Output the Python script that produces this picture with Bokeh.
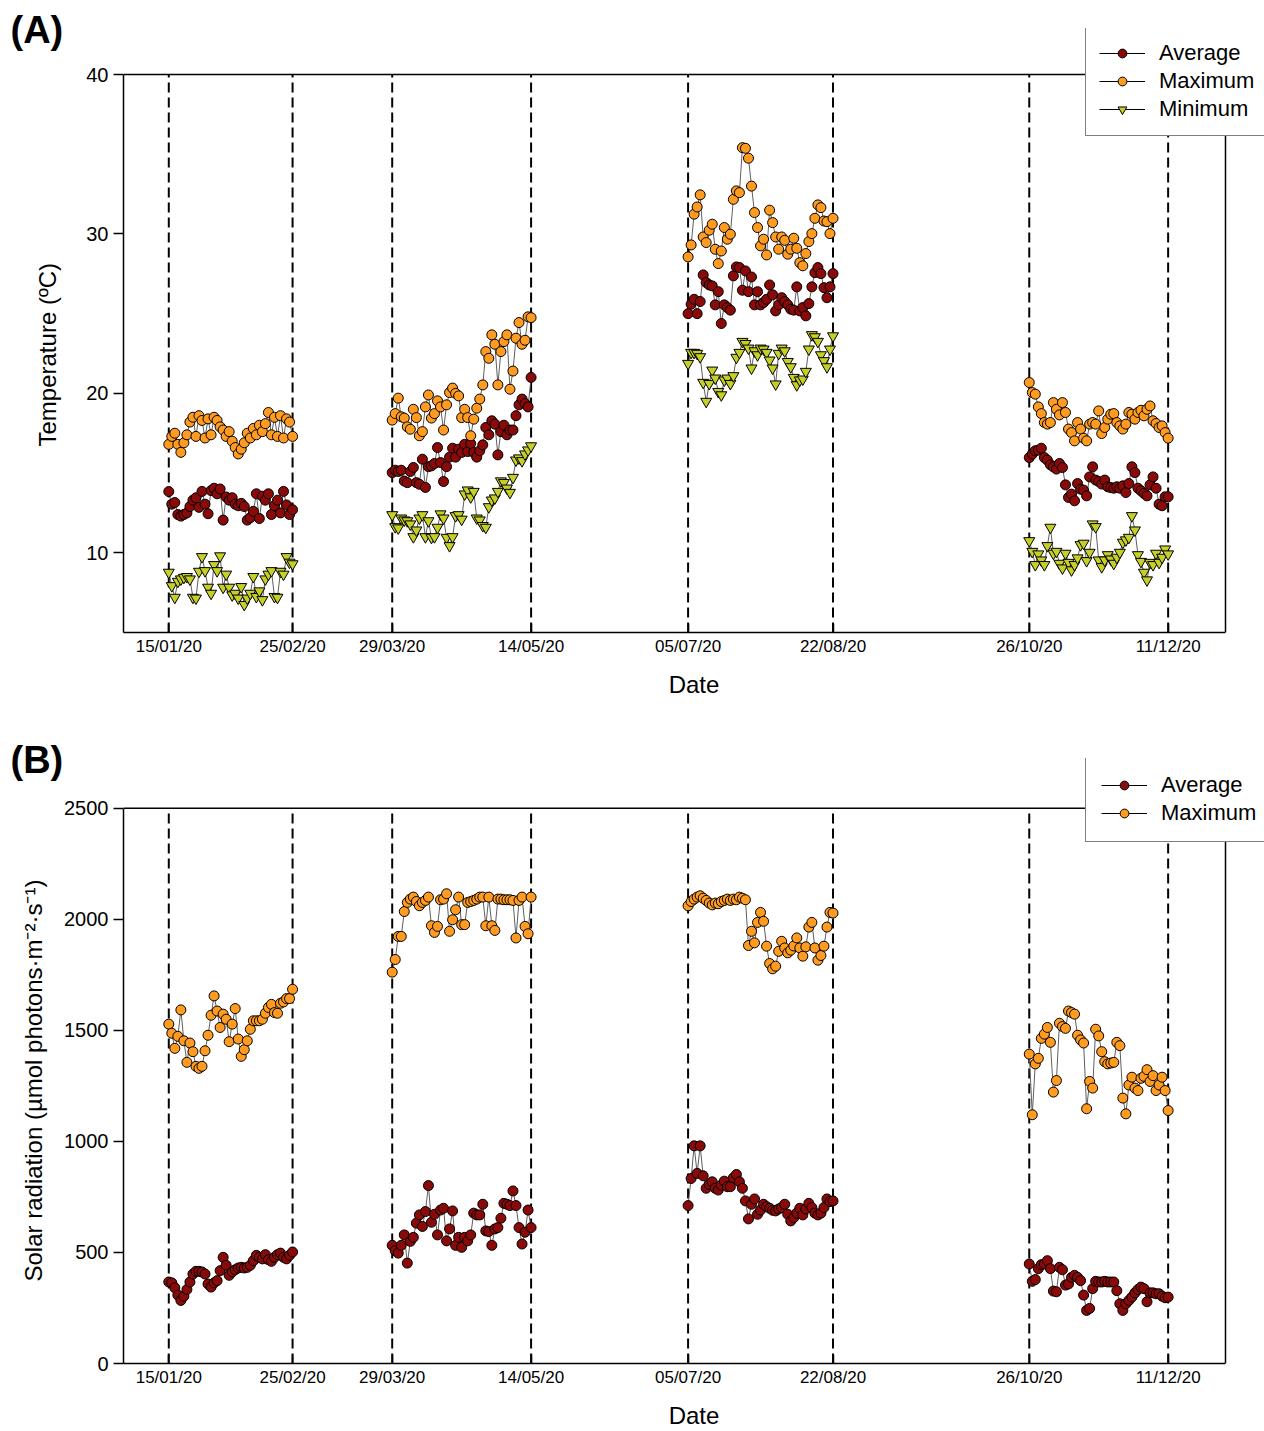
import pandas as pd
from datetime import datetime, timedelta
from bokeh.plotting import figure
from bokeh.layouts import column
from bokeh.models import (Legend, LegendItem, FixedTicker, DatetimeTickFormatter, Range1d, Title)
from bokeh.embed import file_html
from bokeh.resources import INLINE

# ---------------- data ----------------
period_starts = ["2020-01-15", "2020-03-29", "2020-07-05", "2020-10-26"]
period_ends = ["2020-02-25", "2020-05-14", "2020-08-22", "2020-12-11"]
tick_dates = ["2020-01-15", "2020-02-25", "2020-03-29", "2020-05-14",
              "2020-07-05", "2020-08-22", "2020-10-26", "2020-12-11"]

# Temperature (ºC) - Average
temp_avg_1 = [13.84, 13.05, 13.15, 12.4, 12.3, 12.4, 12.5, 12.9, 13.3, 13.45, 12.85, 13.85, 13.05, 12.45,
              13.9, 14.05, 13.7, 14.0, 12.05, 13.5, 13.3, 13.45, 13.05, 12.95, 13.1, 12.9, 12.05, 12.2,
              12.6, 13.7, 12.15, 13.55, 13.3, 13.7, 12.4, 12.95, 13.3, 12.5, 13.85, 13.0, 12.4, 12.7]
temp_avg_2 = [15.03, 15.18, 15.1, 15.18, 14.5, 14.4, 15.1, 15.35, 14.4, 14.3, 15.87, 14.1, 15.4, 15.45,
              15.6, 16.6, 15.66, 14.47, 15.4, 16.0, 16.56, 16.0, 16.5, 16.29, 16.8, 16.35, 16.85, 16.29,
              16.0, 16.4, 16.77, 17.86, 17.4, 18.28, 18.07, 16.14, 17.6, 18.0, 17.4, 17.7, 17.7, 18.6,
              19.28, 19.64, 19.36, 19.15, 21.0]
temp_avg_3 = [25.0, 25.59, 25.9, 25.0, 25.76, 27.43, 26.95, 26.8, 26.74, 25.55, 26.38, 24.38, 25.55, 25.38,
              25.22, 27.37, 27.93, 27.89, 26.47, 27.68, 26.38, 27.3, 25.55, 26.38, 25.55, 25.7, 25.9, 26.8,
              26.18, 25.17, 25.55, 26.0, 25.76, 25.55, 25.28, 25.22, 26.68, 25.17, 25.38, 24.86, 25.63,
              26.68, 27.57, 27.89, 27.51, 26.63, 26.0, 26.68, 27.51]
temp_avg_4 = [15.97, 16.19, 16.4, 16.44, 16.56, 15.97, 15.81, 15.52, 15.39, 15.25, 15.6, 15.35, 14.26, 13.47,
              13.68, 13.26, 14.34, 13.99, 13.93, 13.57, 14.76, 15.39, 14.56, 14.47, 14.31, 14.56, 14.14,
              14.09, 14.05, 14.14, 14.05, 14.2, 13.78, 14.34, 15.39, 15.03, 14.05, 13.89, 13.72, 13.57,
              14.26, 14.76, 14.05, 13.05, 12.95, 13.51, 13.51]

# Temperature (ºC) - Maximum
temp_max_1 = [16.8, 17.3, 17.5, 16.8, 16.3, 16.9, 17.4, 18.2, 18.5, 17.3, 18.6, 18.3, 17.2, 18.4, 17.4,
              18.5, 18.3, 17.9, 17.7, 17.3, 17.6, 17.0, 16.6, 16.2, 16.5, 16.9, 17.5, 17.2, 17.8, 17.4,
              18.0, 17.6, 18.1, 18.8, 17.4, 18.5, 17.3, 18.6, 17.2, 18.4, 18.2, 17.3]
temp_max_2 = [18.32, 18.73, 19.7, 18.53, 18.45, 17.9, 17.75, 19.0, 18.48, 17.34, 17.6, 19.15, 19.9, 18.45,
              18.73, 19.53, 19.15, 17.7, 19.28, 20.05, 20.33, 20.0, 19.84, 18.48, 19.0, 18.48, 17.34,
              18.38, 19.07, 19.64, 20.53, 22.62, 22.2, 23.67, 23.08, 20.53, 22.62, 23.25, 23.67, 20.26,
              21.4, 23.46, 24.44, 23.08, 23.33, 24.8, 24.75]
temp_max_3 = [28.56, 29.31, 31.24, 31.69, 32.45, 29.81, 29.46, 30.23, 30.61, 29.04, 28.14, 28.93, 30.4,
              29.67, 29.98, 32.17, 32.7, 32.59, 35.41, 35.37, 34.75, 33.0, 31.34, 30.4, 29.25, 29.67,
              28.68, 31.49, 30.71, 29.81, 29.04, 29.81, 29.6, 28.73, 29.04, 29.73, 29.1, 28.2, 28.0,
              28.77, 29.52, 30.02, 30.98, 31.82, 31.65, 30.81, 30.77, 30.02, 30.98]
temp_max_4 = [20.68, 20.05, 19.95, 19.15, 18.73, 18.17, 18.07, 18.17, 19.42, 19.0, 18.65, 19.42, 18.8,
              17.76, 17.54, 17.02, 18.17, 17.76, 17.19, 17.02, 18.07, 18.17, 18.07, 18.9, 17.48, 17.86,
              18.38, 18.69, 18.73, 18.17, 17.96, 17.76, 18.07, 18.8, 18.69, 18.38, 18.8, 18.94, 18.59,
              19.0, 19.21, 18.28, 18.11, 17.86, 17.96, 17.54, 17.19]

# Temperature (ºC) - Minimum
temp_min_1 = [8.77, 7.93, 7.2, 8.2, 8.35, 8.45, 8.5, 8.35, 7.2, 7.15, 8.83, 9.75, 8.87, 7.83, 7.45, 9.25,
              8.87, 9.8, 7.83, 8.65, 7.83, 7.35, 7.45, 7.15, 7.87, 6.75, 7.15, 7.45, 8.5, 7.25, 7.6, 7.05,
              8.35, 8.65, 8.87, 7.25, 7.2, 8.83, 8.65, 9.75, 9.4, 9.3]
temp_min_2 = [12.38, 11.63, 11.55, 12.17, 12.05, 12.0, 11.8, 11.0, 11.42, 12.17, 12.38, 11.0, 12.0, 10.96,
              11.0, 11.59, 12.43, 12.17, 10.96, 10.44, 11.0, 12.32, 12.38, 12.1, 13.68, 13.93, 13.5,
              13.84, 12.17, 12.05, 11.7, 11.59, 12.88, 13.3, 13.43, 13.84, 14.5, 14.4, 14.05, 13.78,
              14.72, 15.81, 15.94, 15.77, 16.19, 16.44, 16.7]
temp_min_3 = [21.87, 22.56, 22.56, 22.5, 22.29, 20.68, 19.49, 20.61, 21.45, 20.95, 20.11, 19.9, 20.83,
              20.95, 20.61, 21.1, 22.25, 22.56, 23.25, 23.12, 22.83, 21.58, 22.66, 22.41, 22.83, 22.77,
              22.56, 22.08, 21.58, 20.58, 22.5, 22.83, 22.66, 21.99, 21.66, 20.99, 20.53, 20.83, 20.89,
              21.37, 22.77, 23.67, 23.54, 23.25, 22.41, 22.04, 21.66, 22.77, 23.6]
temp_min_4 = [10.75, 10.08, 9.25, 9.92, 9.54, 9.25, 10.44, 11.59, 9.96, 10.08, 9.33, 9.04, 9.96, 9.39,
              8.92, 9.25, 9.67, 10.5, 10.59, 9.5, 10.02, 11.8, 11.63, 9.54, 9.12, 9.54, 9.87, 9.6, 9.33,
              9.71, 10.02, 10.65, 10.8, 10.96, 12.32, 11.42, 9.87, 9.45, 8.77, 8.29, 9.39, 9.25, 9.96,
              9.39, 9.71, 10.23, 9.92]

# Solar radiation - Average
rad_avg_1 = [367, 363, 341, 308, 284, 303, 333, 367, 403, 415, 415, 412, 403, 358, 344, 363, 373, 418, 478,
             442, 397, 412, 422, 430, 433, 430, 433, 442, 463, 487, 478, 471, 490, 467, 460, 478, 490, 497,
             478, 471, 487, 502]
rad_avg_2 = [532, 508, 497, 532, 579, 452, 550, 568, 632, 669, 617, 684, 801, 636, 672, 579, 691, 699, 552,
             606, 687, 532, 568, 523, 568, 552, 579, 677, 669, 669, 717, 597, 594, 532, 606, 612, 654, 721,
             717, 711, 777, 711, 612, 538, 591, 691, 612]
rad_avg_3 = [711, 833, 980, 856, 980, 845, 789, 806, 818, 789, 781, 803, 821, 796, 796, 836, 851, 818, 789,
             732, 651, 717, 741, 672, 691, 717, 706, 699, 690, 687, 696, 702, 717, 672, 642, 657, 677, 699,
             669, 696, 721, 702, 677, 669, 677, 702, 741, 729, 732]
rad_avg_4 = [448, 370, 378, 427, 445, 448, 463, 427, 326, 323, 433, 422, 353, 358, 388, 397, 388, 373, 308,
             239, 248, 337, 370, 367, 367, 370, 367, 367, 367, 328, 269, 239, 269, 284, 299, 318, 333, 344,
             337, 278, 318, 318, 314, 314, 303, 296, 299]

# Solar radiation - Maximum
rad_max_1 = [1528, 1487, 1419, 1473, 1592, 1453, 1356, 1443, 1404, 1338, 1329, 1338, 1408, 1478, 1568, 1655,
             1587, 1513, 1573, 1550, 1449, 1528, 1598, 1461, 1383, 1413, 1453, 1505, 1543, 1543, 1543,
             1550, 1577, 1603, 1617, 1580, 1577, 1622, 1628, 1643, 1643, 1685]
rad_max_2 = [1762, 1819, 1923, 1923, 2035, 2076, 2091, 2100, 2080, 2061, 2076, 2085, 2100, 1971, 1941, 1968,
             2088, 2091, 2115, 1946, 1998, 2043, 2100, 1976, 1976, 2076, 2080, 2085, 2091, 2100, 2100,
             1971, 2100, 1971, 1950, 2091, 2091, 2088, 2088, 2088, 2085, 1916, 2085, 2100, 1968, 1935, 2100]
rad_max_3 = [2061, 2080, 2091, 2100, 2106, 2095, 2085, 2073, 2065, 2073, 2070, 2080, 2085, 2091, 2085, 2091,
             2088, 2100, 2095, 2088, 1882, 1946, 1894, 1986, 2031, 1991, 1879, 1801, 1777, 1789, 1856,
             1901, 1871, 1849, 1861, 1880, 1916, 1871, 1834, 1876, 1965, 1986, 1871, 1816, 1837, 1879,
             1965, 2031, 2028]
rad_max_4 = [1393, 1120, 1349, 1374, 1464, 1483, 1513, 1446, 1222, 1274, 1532, 1517, 1509, 1587, 1580, 1573,
             1478, 1457, 1443, 1147, 1270, 1240, 1505, 1475, 1404, 1359, 1349, 1353, 1356, 1446, 1431,
             1195, 1124, 1254, 1289, 1240, 1229, 1284, 1293, 1323, 1270, 1296, 1229, 1254, 1289, 1229, 1139]

temp_y_ticks = [10, 20, 30, 40]
temp_y_limits = (5, 40)
rad_y_ticks = [0, 500, 1000, 1500, 2000, 2500]
rad_y_limits = (0, 2500)

# ---------------- style / geometry ----------------
FONT = "Liberation Sans"
C_AVG = "#8a0a0a"
C_MAX = "#ff9b21"
C_MIN = "#c5cf27"
C_LINE = "#5e5e5e"

BOX_X0 = datetime(2019, 12, 31)       # left edge of the drawn axes box
BOX_X1 = datetime(2020, 12, 30)       # right edge of the drawn axes box
FIG_W = 1264
BORDER_L = 123
BOX_RIGHT_PX = 1225                   # pixel position of BOX_X1

period_dates = [pd.date_range(s, e, freq="D") for s, e in zip(period_starts, period_ends)]
tick_ms = [pd.Timestamp(d).value / 1e6 for d in tick_dates]

px_per_day = (BOX_RIGHT_PX - BORDER_L) / (BOX_X1 - BOX_X0).days
X_END = BOX_X0 + timedelta(days=(FIG_W - BORDER_L) / px_per_day)
NAN = float("nan")


def build(series, ylabel, ylabel_offset, ylabel_standoff, yticks, ylims, tag, h, frame_top,
          box_top, bbot, legend_vy, legend_pad):
    frame_h = h - frame_top - bbot
    box_h = frame_h - (box_top - frame_top)
    y_top = ylims[1] + (ylims[1] - ylims[0]) * (box_top - frame_top) / box_h

    p = figure(width=FIG_W, height=h, x_axis_type="datetime", output_backend="svg",
               toolbar_location=None, x_range=Range1d(start=BOX_X0, end=X_END),
               y_range=Range1d(start=ylims[0], end=y_top),
               min_border_left=BORDER_L, min_border_right=0, min_border_top=frame_top,
               min_border_bottom=bbot)
    p.grid.visible = False
    p.outline_line_color = None

    # panel tag "(A)" / "(B)" as the plot title
    p.title.text = tag
    p.title.align = "left"
    p.title.offset = -113
    p.title.vertical_align = "bottom"
    p.title.standoff = -44
    p.title.text_font = FONT
    p.title.text_font_size = "38px"
    p.title.text_font_style = "bold"
    p.title.text_color = "black"

    fmt = "%d/%m/%y"
    p.xaxis.ticker = FixedTicker(ticks=tick_ms)
    p.xaxis.formatter = DatetimeTickFormatter(
        microseconds=fmt, milliseconds=fmt, seconds=fmt, minsec=fmt, minutes=fmt,
        hourmin=fmt, hours=fmt, days=fmt, months=fmt, years=fmt)
    p.yaxis.ticker = FixedTicker(ticks=yticks)
    p.xaxis.bounds = (BOX_X0, BOX_X1)
    p.yaxis.bounds = ylims

    for ax in (p.xaxis[0], p.yaxis[0]):
        ax.axis_line_width = 1.5
        ax.axis_line_color = "black"
        ax.major_tick_line_width = 1.5
        ax.major_tick_line_color = "black"
        ax.minor_tick_line_color = None
        ax.major_label_text_font = FONT
        ax.major_label_text_color = "black"
        ax.axis_label_text_font = FONT
        ax.axis_label_text_font_style = "normal"
        ax.axis_label_text_font_size = "24px"
        ax.axis_label_text_color = "black"

    xa = p.xaxis[0]
    xa.axis_label = "Date"
    xa.major_tick_in = 9
    xa.major_tick_out = 0
    xa.major_label_text_font_size = "17px"
    xa.major_label_standoff = 4
    xa.axis_label_standoff = 12

    ya = p.yaxis[0]
    ya.major_tick_in = 0
    ya.major_tick_out = 10
    ya.major_label_text_font_size = "20px"
    ya.major_label_standoff = 5

    # y-axis title, centred on the drawn box rather than on the whole frame
    p.add_layout(Title(text=ylabel, align="left", offset=ylabel_offset, vertical_align="bottom",
                       standoff=ylabel_standoff, text_font=FONT, text_font_size="24px",
                       text_font_style="normal", text_color="black"), "left")

    # top and right sides of the axes box
    p.line(x=[BOX_X0, BOX_X1, BOX_X1], y=[ylims[1], ylims[1], ylims[0]],
           line_color="black", line_width=1.5)

    # dashed period boundaries
    tick_dt = [pd.Timestamp(d) for d in tick_dates]
    p.segment(x0=tick_dt, y0=[ylims[0]] * len(tick_dt), x1=tick_dt, y1=[ylims[1]] * len(tick_dt),
              line_color="black", line_width=2, line_dash="10 5", level="underlay")

    items = []
    for name, segs, marker, color, size in series:
        for dates, vals in zip(period_dates, segs):
            p.line(dates, vals, line_color=C_LINE, line_width=1)
            p.scatter(dates, vals, marker=marker, size=size, fill_color=color,
                      line_color="black", line_width=1)
        # legend proxies (single invisible point) so the legend line is black
        lr = p.line(x=[BOX_X0], y=[NAN], line_color="black", line_width=1)
        sr = p.scatter(x=[BOX_X0], y=[NAN], marker=marker, size=size, fill_color=color,
                       line_color="black", line_width=1)
        items.append(LegendItem(label=name, renderers=[lr, sr]))

    leg = Legend(items=items, location=(962, legend_vy), margin=0, padding=legend_pad,
                 spacing=2, glyph_width=46, glyph_height=22, label_height=22,
                 label_standoff=14, label_text_font=FONT, label_text_font_size="22px",
                 label_text_color="black", border_line_color="black",
                 border_line_width=1.5, background_fill_color="white",
                 background_fill_alpha=1.0)
    p.add_layout(leg, "center")
    return p


temp_series = [
    ("Average", [temp_avg_1, temp_avg_2, temp_avg_3, temp_avg_4], "circle", C_AVG, 10),
    ("Maximum", [temp_max_1, temp_max_2, temp_max_3, temp_max_4], "circle", C_MAX, 10),
    ("Minimum", [temp_min_1, temp_min_2, temp_min_3, temp_min_4], "inverted_triangle", C_MIN, 11),
]
rad_series = [
    ("Average", [rad_avg_1, rad_avg_2, rad_avg_3, rad_avg_4], "circle", C_AVG, 10),
    ("Maximum", [rad_max_1, rad_max_2, rad_max_3, rad_max_4], "circle", C_MAX, 10),
]

# panel A: figure rows 0..720, frame from y=28, drawn box from y=74 to 632
pA = build(temp_series, "Temperature (ºC)", 186, 45, temp_y_ticks, temp_y_limits, "(A)",
           720, 28, 74, 88, 496, 13)
# panel B: figure rows 720..1431, frame from y=758, drawn box from y=808 to 1366
pB = build(rad_series, "Solar radiation (µmol photons·m⁻²·s⁻¹)", 82, 30, rad_y_ticks, rad_y_limits,
           "(B)", 711, 38, 88, 65, 521, 15)

layout = column(pA, pB)
open("out.html", "w").write(file_html(layout, INLINE))
